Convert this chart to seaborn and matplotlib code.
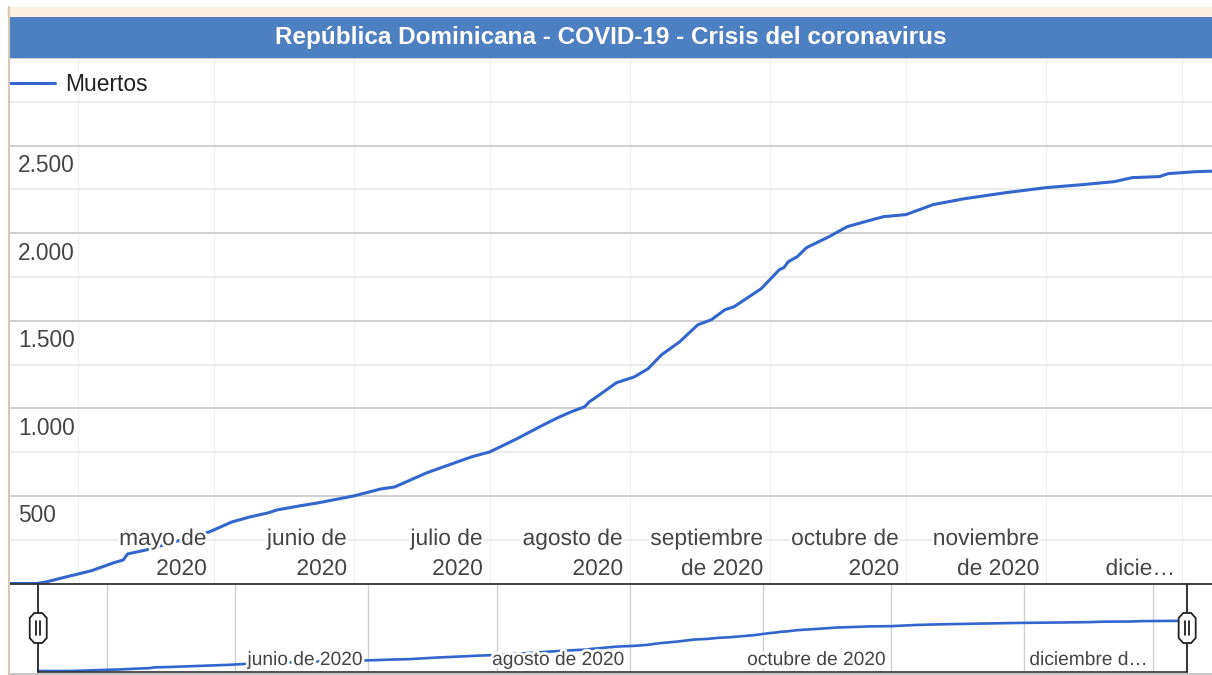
import numpy as np
import pandas as pd
import matplotlib
matplotlib.use("Agg")
import matplotlib.pyplot as plt
import matplotlib.dates as mdates
import matplotlib.patheffects as pe
from matplotlib.patches import Rectangle, Polygon
from matplotlib.lines import Line2D
import seaborn as sns

# ---------------- data ----------------
title = "República Dominicana - COVID-19 - Crisis del coronavirus"
series_name = "Muertos"

dates = ["2020-03-16", "2020-03-23", "2020-03-25", "2020-03-29", "2020-04-04",
         "2020-04-09", "2020-04-11", "2020-04-12", "2020-04-16", "2020-04-30",
         "2020-05-05", "2020-05-09", "2020-05-13", "2020-05-15", "2020-05-20",
         "2020-05-24", "2020-06-01", "2020-06-07", "2020-06-10", "2020-06-17",
         "2020-06-22", "2020-06-27", "2020-07-01", "2020-07-07", "2020-07-12",
         "2020-07-16", "2020-07-19", "2020-07-22", "2020-07-23", "2020-07-24",
         "2020-07-29", "2020-08-02", "2020-08-05", "2020-08-08", "2020-08-12",
         "2020-08-16", "2020-08-19", "2020-08-22", "2020-08-24", "2020-08-30",
         "2020-09-03", "2020-09-04", "2020-09-05", "2020-09-07", "2020-09-09",
         "2020-09-14", "2020-09-18", "2020-09-22", "2020-09-26", "2020-10-01",
         "2020-10-07", "2020-10-14", "2020-10-23", "2020-11-01", "2020-11-09",
         "2020-11-16", "2020-11-20", "2020-11-26", "2020-11-28", "2020-12-04",
         "2020-12-09"]
deaths = [0, 0, 9, 35, 73,
          119, 134, 169, 191, 294,
          351, 380, 403, 420, 443,
          460, 500, 540, 551, 631,
          677, 723, 751, 826, 894,
          946, 980, 1009, 1037, 1054,
          1146, 1180, 1226, 1306, 1380,
          1477, 1506, 1563, 1580, 1683,
          1791, 1803, 1837, 1866, 1917,
          1980, 2037, 2066, 2094, 2106,
          2163, 2197, 2231, 2260, 2277,
          2294, 2317, 2323, 2340, 2351,
          2355]

y_ticks = [500, 1000, 1500, 2000, 2500]
y_tick_labels = ["500", "1.000", "1.500", "2.000", "2.500"]

month_starts = ["2020-04-01", "2020-05-01", "2020-06-01", "2020-07-01", "2020-08-01",
                "2020-09-01", "2020-10-01", "2020-11-01", "2020-12-01"]

top_label_dates = ["2020-05-01", "2020-06-01", "2020-07-01", "2020-08-01",
                   "2020-09-01", "2020-10-01", "2020-11-01", "2020-12-01"]
top_label_line1 = ["mayo de", "junio de", "julio de", "agosto de",
                   "septiembre", "octubre de", "noviembre", ""]
top_label_line2 = ["2020", "2020", "2020", "2020",
                   "de 2020", "2020", "de 2020", "dicie…"]

bottom_label_dates = ["2020-06-01", "2020-08-01", "2020-10-01", "2020-12-01"]
bottom_labels = ["junio de 2020", "agosto de 2020", "octubre de 2020", "diciembre d…"]

# ---------------- style ----------------
sns.set_theme(style="white")
plt.rcParams["font.family"] = ["Liberation Sans", "DejaVu Sans"]

W, H = 1212, 675
fig = plt.figure(figsize=(W / 100, H / 100), dpi=100)
fig.patch.set_facecolor("white")


def fx(x):
    return x / W


def fy(y):
    return 1 - y / H


LINE = "#3366CC"
TXT = "#444444"
halo = [pe.withStroke(linewidth=4, foreground="white")]

df = pd.DataFrame({"fecha": pd.to_datetime(dates), series_name: deaths})
ms = pd.to_datetime(month_starts)

# ---------------- main chart ----------------
# y range -7..3000 so the zero line is fully visible; 0 sits at pixel row 583.5
Y0, Y1 = -7, 3000
ppu = (583.5 - 58) / 3000.0
bottom_px = 583.5 + (-Y0) * ppu
ax = fig.add_axes([fx(10), fy(bottom_px), (W - 10) / W, (bottom_px - 58) / H])
ax.set_facecolor("white")
sns.lineplot(data=df, x="fecha", y=series_name, ax=ax, color=LINE, linewidth=2.2,
             label=series_name, zorder=2)
ax.set_xlim(pd.Timestamp("2020-03-17 00:00"), pd.Timestamp("2020-12-07 15:00"))
ax.set_ylim(Y0, Y1)
ax.set_yticks(list(range(500, 3001, 500)))
ax.set_yticks(list(range(250, 3000, 500)), minor=True)
ax.set_xticks(ms)
ax.grid(axis="y", which="major", color="#cccccc", linewidth=1.3)
ax.grid(axis="y", which="minor", color="#ebebeb", linewidth=1.3)
ax.grid(axis="x", which="major", color="#f1f1f1", linewidth=1.0)
ax.tick_params(which="both", length=0, labelbottom=False, labelleft=False)
ax.set_xlabel("")
ax.set_ylabel("")
for s in ax.spines.values():
    s.set_visible(False)

ax.legend(loc="upper left", bbox_to_anchor=(0, 0.971), frameon=False,
          borderaxespad=0, borderpad=0, handlelength=1.97, handletextpad=0.44,
          fontsize=16.4, labelcolor="#222222")

for v, lab in zip(y_ticks, y_tick_labels):
    ax.annotate(lab, xy=(0, v), xycoords=("axes fraction", "data"),
                xytext=(8, -26.5), textcoords="offset pixels",
                ha="left", va="baseline", fontsize=16.4, color=TXT)

for d, l1, l2 in zip(top_label_dates, top_label_line1, top_label_line2):
    dt = pd.Timestamp(d)
    if l1:
        ax.annotate(l1, xy=(dt, 0), xycoords=("data", "data"),
                    xytext=(-7, 38.5), textcoords="offset pixels",
                    ha="right", va="baseline", fontsize=16.4, color=TXT,
                    path_effects=halo, zorder=5)
    ax.annotate(l2, xy=(dt, 0), xycoords=("data", "data"),
                xytext=(-7, 8.5), textcoords="offset pixels",
                ha="right", va="baseline", fontsize=16.4, color=TXT,
                path_effects=halo, zorder=5)

# ---------------- range filter ----------------
ax2 = fig.add_axes([fx(10), fy(672), (W - 10) / W, (672 - 583.5) / H])
ax2.set_facecolor("white")
sns.lineplot(data=df, x="fecha", y=series_name, ax=ax2, color=LINE, linewidth=1.9,
             legend=False, zorder=2)
ax2.set_xlim(pd.Timestamp("2020-03-09 10:00"), pd.Timestamp("2020-12-14 19:00"))
ax2.set_ylim(-47, 4108)
ax2.set_xticks(ms)
ax2.set_yticks([])
ax2.grid(axis="x", color="#d0d0d0", linewidth=1.0)
ax2.tick_params(length=0, labelbottom=False, labelleft=False)
ax2.set_xlabel("")
ax2.set_ylabel("")
for s in ax2.spines.values():
    s.set_visible(False)

for d, lab in zip(bottom_label_dates, bottom_labels):
    ax2.annotate(lab, xy=(pd.Timestamp(d), 0), xycoords=("data", "axes fraction"),
                 xytext=(-6, 7), textcoords="offset pixels",
                 ha="right", va="baseline", fontsize=13.8, color=TXT,
                 path_effects=halo, zorder=5)

# selection borders and handles at the ends of the data range
x_first = ax2.transData.transform((mdates.date2num(df["fecha"].iloc[0]), 0))[0]
x_last = ax2.transData.transform((mdates.date2num(df["fecha"].iloc[-1]), 0))[0]

fig.add_artist(Line2D([fx(10), fx(W)], [fy(583.5), fy(583.5)], color="#333333",
                      linewidth=1.3, transform=fig.transFigure, zorder=6))
fig.add_artist(Line2D([fx(10), fx(W)], [fy(673.5), fy(673.5)], color="#bbbbbb",
                      linewidth=1.2, transform=fig.transFigure, zorder=6))
fig.add_artist(Line2D([x_first / W, x_last / W], [fy(672), fy(672)], color="#333333",
                      linewidth=1.2, transform=fig.transFigure, zorder=6))
for hx in (x_first, x_last):
    fig.add_artist(Line2D([hx / W, hx / W], [fy(583.5), fy(672)], color="#222222",
                          linewidth=1.3, transform=fig.transFigure, zorder=7))
    cy = 628
    pts = [(-4, -15), (4, -15), (8.5, -10), (8.5, 10), (4, 15), (-4, 15),
           (-8.5, 10), (-8.5, -10)]
    poly = Polygon([(fx(hx + a), fy(cy + b)) for a, b in pts], closed=True,
                   facecolor="white", edgecolor="#222222", linewidth=1.3,
                   transform=fig.transFigure, zorder=8)
    fig.add_artist(poly)
    for dx in (-2, 2):
        fig.add_artist(Line2D([fx(hx + dx), fx(hx + dx)], [fy(621), fy(635)],
                              color="#222222", linewidth=1.3,
                              transform=fig.transFigure, zorder=9))

# ---------------- frame, title bar ----------------
fig.add_artist(Rectangle((fx(7), fy(17)), 1 - fx(7), 10 / H, transform=fig.transFigure,
                         facecolor="#FDF0E0", edgecolor="none", zorder=1))
fig.add_artist(Rectangle((fx(9), fy(57.5)), 1 - fx(9), 40.5 / H, transform=fig.transFigure,
                         facecolor="#4D80C0", edgecolor="none", zorder=3))
fig.text(fx(611), fy(37.5), title, ha="center", va="center", color="white",
         fontsize=17.5, fontweight="bold", zorder=4)
fig.add_artist(Line2D([fx(8.5), fx(8.5)], [fy(7), fy(675)], color="#d8c8b8",
                      linewidth=1.5, transform=fig.transFigure, zorder=6))

fig.savefig("out.png", dpi=100, facecolor="white")
